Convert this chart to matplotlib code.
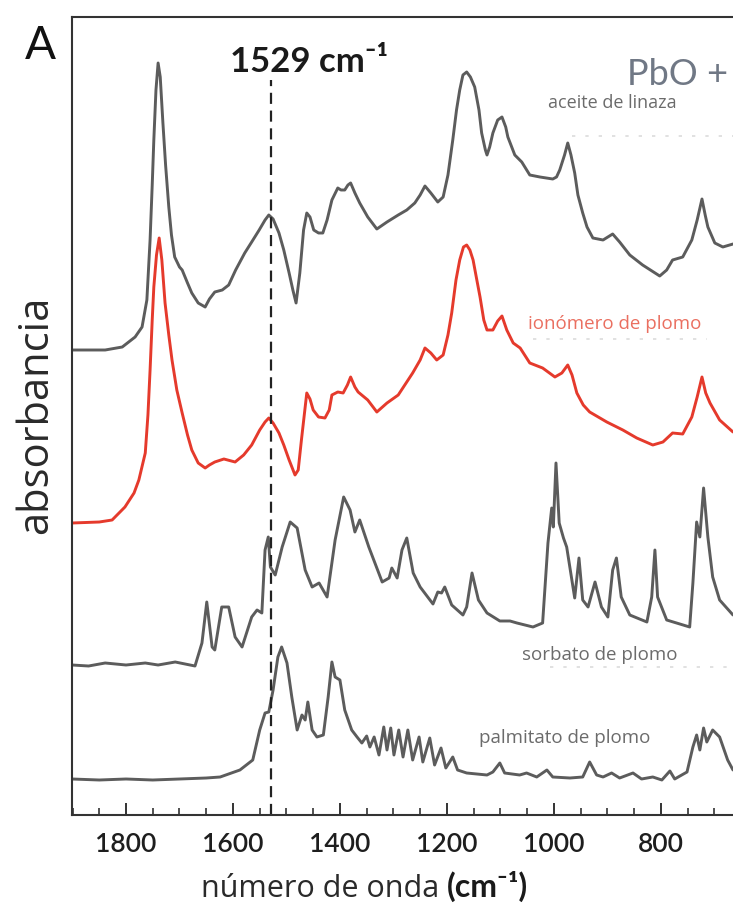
import matplotlib
matplotlib.use('Agg')
import matplotlib.pyplot as plt
from matplotlib.ticker import MultipleLocator

# ---------------- data (wavenumber cm-1, relative absorbance + offset) ----------------
aceite_wn = [1901, 1839, 1807, 1783, 1770, 1761, 1755, 1751, 1748, 1744, 1740, 1736, 1731, 1726, 1720,
             1715, 1709, 1700, 1695, 1685, 1677, 1665, 1652, 1644, 1634, 1620, 1608, 1595, 1578, 1565,
             1551, 1540, 1533, 1525, 1514, 1505, 1495, 1488, 1482, 1475, 1468, 1462, 1456, 1449, 1440,
             1432, 1424, 1415, 1404, 1398, 1391, 1385, 1380, 1372, 1363, 1348, 1331, 1312, 1291, 1275,
             1260, 1250, 1241, 1230, 1217, 1207, 1198, 1189, 1182, 1176, 1170, 1163, 1156, 1148, 1140,
             1135, 1128, 1125, 1120, 1114, 1105, 1097, 1090, 1086, 1073, 1060, 1045, 1026, 1002, 995,
             989, 980, 974, 968, 961, 955, 946, 938, 927, 908, 890, 877, 858, 834, 802,
             789, 778, 759, 742, 732, 723, 717, 712, 699, 684, 665]
aceite_y = [465, 465, 468, 478, 488, 515, 575, 630, 675, 725, 752, 738, 692, 650, 608,
            580, 558, 548, 545, 532, 522, 512, 508, 516, 523, 525, 530, 545, 562, 573,
            585, 595, 600, 596, 582, 565, 542, 525, 512, 542, 585, 602, 598, 585, 582,
            582, 595, 615, 627, 625, 625, 630, 632, 622, 612, 598, 586, 593, 600, 605,
            612, 620, 629, 622, 613, 618, 640, 675, 705, 725, 740, 743, 738, 728, 705,
            682, 665, 660, 668, 682, 695, 698, 688, 678, 660, 653, 640, 638, 636, 638,
            645, 660, 672, 660, 642, 620, 602, 588, 577, 575, 581, 573, 560, 550, 539,
            545, 555, 558, 575, 595, 616, 600, 588, 572, 568, 571]

ionomero_wn = [1901, 1850, 1826, 1802, 1785, 1776, 1764, 1759, 1755, 1751, 1748, 1743, 1738, 1733, 1727,
               1720, 1714, 1705, 1695, 1685, 1677, 1665, 1652, 1644, 1634, 1617, 1596, 1580, 1565, 1550,
               1540, 1533, 1525, 1514, 1505, 1495, 1484, 1478, 1472, 1462, 1456, 1450, 1440, 1428, 1420,
               1415, 1404, 1394, 1386, 1380, 1372, 1366, 1348, 1331, 1312, 1291, 1264, 1250, 1241, 1230,
               1219, 1207, 1198, 1191, 1183, 1176, 1169, 1163, 1157, 1151, 1144, 1138, 1131, 1125, 1114,
               1105, 1097, 1088, 1076, 1063, 1045, 1021, 998, 985, 974, 966, 957, 945, 933, 901,
               871, 845, 815, 796, 778, 759, 742, 732, 723, 716, 708, 690, 665]
ionomero_y = [292, 293, 295, 308, 322, 335, 362, 400, 445, 495, 528, 560, 577, 555, 512,
              480, 455, 425, 402, 380, 365, 352, 347, 350, 353, 356, 353, 360, 370, 385,
              393, 397, 392, 382, 370, 355, 340, 345, 375, 422, 416, 405, 398, 397, 405,
              420, 423, 422, 430, 438, 428, 423, 415, 403, 412, 420, 442, 455, 467, 462,
              455, 460, 480, 502, 535, 555, 568, 570, 565, 555, 535, 518, 495, 485, 485,
              494, 499, 485, 472, 467, 452, 447, 438, 442, 450, 440, 422, 410, 403, 393,
              385, 377, 370, 373, 382, 381, 398, 418, 438, 422, 412, 395, 383]

sorbato_wn = [1901, 1870, 1839, 1800, 1764, 1740, 1708, 1671, 1658, 1649, 1639, 1634, 1621, 1608, 1596,
              1583, 1565, 1555, 1546, 1540, 1534, 1530, 1521, 1508, 1493, 1480, 1465, 1452, 1439, 1424,
              1409, 1393, 1381, 1372, 1363, 1346, 1321, 1308, 1303, 1293, 1284, 1275, 1263, 1250, 1226,
              1217, 1210, 1204, 1191, 1170, 1163, 1153, 1141, 1125, 1101, 1082, 1069, 1039, 1021, 1011,
              1004, 1001, 996, 990, 982, 976, 961, 953, 946, 936, 923, 911, 899, 890, 883,
              874, 858, 826, 817, 811, 806, 789, 746, 740, 733, 727, 720, 712, 703, 690, 665]
sorbato_y = [150, 149, 152, 150, 152, 150, 153, 149, 172, 213, 168, 165, 208, 208, 178,
             168, 198, 205, 202, 265, 278, 248, 240, 268, 293, 287, 245, 228, 232, 218,
             275, 318, 305, 283, 295, 268, 233, 237, 247, 237, 265, 277, 242, 228, 211,
             223, 222, 228, 210, 200, 208, 242, 215, 202, 194, 194, 192, 188, 192, 272,
             307, 288, 352, 292, 277, 268, 217, 257, 215, 208, 233, 208, 198, 245, 257,
             218, 200, 193, 218, 265, 218, 195, 188, 232, 293, 278, 327, 278, 238, 215, 200]

palmitato_wn = [1901, 1850, 1800, 1750, 1700, 1650, 1624, 1587, 1563, 1550, 1540, 1533, 1525, 1516, 1509,
                1499, 1490, 1480, 1471, 1465, 1460, 1452, 1443, 1431, 1422, 1415, 1409, 1400, 1391, 1378,
                1368, 1359, 1350, 1344, 1336, 1327, 1318, 1312, 1305, 1299, 1290, 1282, 1273, 1264, 1252,
                1245, 1232, 1223, 1211, 1202, 1189, 1180, 1163, 1125, 1114, 1101, 1092, 1064, 1051, 1032,
                1013, 1002, 970, 946, 933, 920, 908, 892, 877, 852, 836, 815, 798, 783, 774,
                751, 740, 733, 727, 720, 714, 703, 690, 675, 665]
palmitato_y = [36, 35, 36, 35, 36, 37, 38, 45, 55, 85, 102, 103, 125, 158, 168,
               152, 118, 85, 100, 95, 113, 85, 78, 80, 118, 153, 138, 135, 105, 85,
               78, 72, 79, 68, 78, 60, 88, 65, 87, 60, 85, 58, 85, 55, 78,
               53, 77, 50, 67, 47, 58, 45, 42, 40, 43, 52, 42, 40, 42, 38,
               45, 38, 37, 38, 53, 40, 38, 42, 37, 42, 36, 38, 35, 44, 36,
               43, 68, 80, 65, 87, 73, 85, 78, 55, 45]

marker_wn = 1529
xticks = [1800, 1600, 1400, 1200, 1000, 800]

# ---------------- figure ----------------
W, H = 733, 909
fig = plt.figure(figsize=(W / 100, H / 100), dpi=100)
ax = fig.add_axes([72 / W, (H - 815) / H, (W - 72) / W, 798 / H])

gray = '#5c5c5c'
red = '#e53a2c'
for wn, y, c in [(aceite_wn, aceite_y, gray), (ionomero_wn, ionomero_y, red),
                 (sorbato_wn, sorbato_y, gray), (palmitato_wn, palmitato_y, gray)]:
    ax.plot(wn, y, color=c, lw=2.1, solid_joinstyle='round', solid_capstyle='round')

ax.plot([marker_wn, marker_wn], [0, 735], color='#222222', lw=1.6, ls=(0, (5, 3)))

ax.set_xlim(1901, 665)
ax.set_ylim(0, 798)
ax.set_yticks([])
ax.set_xticks(xticks)
ax.xaxis.set_minor_locator(MultipleLocator(50))
ax.tick_params(axis='x', which='major', direction='in', length=9, width=1.4,
               color='#333333', pad=12)
ax.tick_params(axis='x', which='minor', direction='in', length=5, width=1.2, color='#333333')
for lab in ax.get_xticklabels():
    lab.set_fontfamily('Lato')
    lab.set_fontsize(19)
    lab.set_fontweight('semibold')
    lab.set_color('#1e1e1e')

for s in ['left', 'top', 'bottom']:
    ax.spines[s].set_linewidth(1.5)
    ax.spines[s].set_color('#333333')
ax.spines['right'].set_visible(False)


def fx(px):
    return px / W


def fy(py):
    return 1 - py / H


# faint dotted guide lines under labels
for (x0, x1, py) in [(572, 733, 136), (533, 707, 339), (550, 733, 667)]:
    fig.add_artist(plt.Line2D([fx(x0), fx(x1)], [fy(py), fy(py)], color='#dcdcdc',
                              lw=1.2, ls=(0, (2, 6))))

# ---------------- texts ----------------
fig.text(fx(40), fy(46), 'A', fontsize=33, family='Lato', color='#111111',
         ha='center', va='center')
fig.text(fx(230), fy(72), '1529 cm⁻¹', fontsize=25, family=['Lato', 'DejaVu Sans'],
         fontweight='bold', color='#1a1a1a', ha='left', va='baseline')
fig.text(fx(627), fy(85), 'PbO +', fontsize=26, family='Lato', color='#707885',
         ha='left', va='baseline')
fig.text(fx(548), fy(108), 'aceite de linaza', fontsize=13, family='Open Sans',
         color='#6b6b6b', ha='left', va='baseline')
fig.text(fx(528), fy(329), 'ionómero de plomo', fontsize=13.5, family='Open Sans',
         color='#ea6f60', ha='left', va='baseline')
fig.text(fx(522), fy(660), 'sorbato de plomo', fontsize=13.5, family='Open Sans',
         color='#6b6b6b', ha='left', va='baseline')
fig.text(fx(479), fy(743), 'palmitato de plomo', fontsize=13.5, family='Open Sans',
         color='#6b6b6b', ha='left', va='baseline')

fig.text(fx(36), fy(415), 'absorbancia', fontsize=30, family='Open Sans', color='#2a2a2a',
         rotation=90, ha='center', va='center')

fig.text(fx(439), fy(897), 'número de onda', fontsize=22, family='Open Sans',
         color='#2a2a2a', ha='right', va='baseline')
fig.text(fx(447), fy(897), '(cm⁻¹)', fontsize=23, family=['Lato', 'DejaVu Sans'],
         fontweight='bold', color='#1a1a1a', ha='left', va='baseline')

fig.savefig('out.png', dpi=100)
